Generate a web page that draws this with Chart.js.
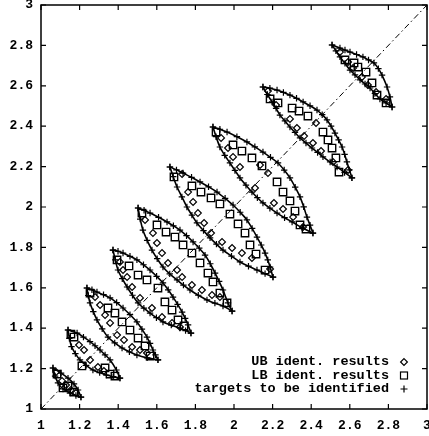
<!DOCTYPE html>
<html>
<head>
<meta charset="utf-8">
<script src="https://cdn.jsdelivr.net/npm/chart.js@4/dist/chart.umd.min.js"></script>
<style>
  body { margin: 0; background: #fff; }
  #plot { display: block; }
</style>
</head>
<body>
<canvas id="plot" width="429" height="436"></canvas>
<script>
const tickValues = [1, 1.2, 1.4, 1.6, 1.8, 2, 2.2, 2.4, 2.6, 2.8, 3];
const diagonal = [1, 3];
const legendLabels = ['UB ident. results', 'LB ident. results', 'targets to be identified'];

// targets, upper arc of each lens (x, y)
const targetsUpper = [
    [[1.062,1.203],[1.104,1.178],[1.140,1.153],[1.171,1.124],[1.192,1.094],[1.207,1.059]],
    [[1.140,1.391],[1.187,1.376],[1.220,1.356],[1.254,1.334],[1.280,1.313],[1.306,1.292],[1.332,1.268],[1.358,1.243],[1.391,1.193],[1.409,1.153]],
    [[1.238,1.599],[1.264,1.590],[1.290,1.579],[1.324,1.566],[1.358,1.550],[1.392,1.527],[1.425,1.500],[1.461,1.467],[1.497,1.431],[1.523,1.395],[1.549,1.356],[1.565,1.325],[1.580,1.292],[1.593,1.268],[1.606,1.243]],
    [[1.373,1.787],[1.399,1.781],[1.425,1.772],[1.461,1.756],[1.497,1.738],[1.531,1.714],[1.565,1.688],[1.599,1.657],[1.632,1.624],[1.659,1.590],[1.684,1.554],[1.708,1.518],[1.731,1.480],[1.747,1.449],[1.762,1.416],[1.777,1.376]],
    [[1.503,1.995],[1.534,1.984],[1.565,1.970],[1.609,1.949],[1.653,1.926],[1.686,1.907],[1.720,1.886],[1.754,1.858],[1.788,1.827],[1.820,1.796],[1.850,1.762],[1.877,1.719],[1.902,1.673],[1.923,1.632],[1.943,1.589],[1.969,1.525],[1.990,1.485]],
    [[1.668,2.198],[1.702,2.184],[1.736,2.168],[1.780,2.147],[1.824,2.124],[1.868,2.100],[1.912,2.074],[1.954,2.043],[1.995,2.010],[2.032,1.974],[2.067,1.936],[2.094,1.894],[2.119,1.851],[2.141,1.812],[2.161,1.772],[2.175,1.738],[2.187,1.703],[2.202,1.653]],
    [[1.891,2.396],[1.927,2.385],[1.964,2.371],[2.015,2.348],[2.067,2.322],[2.108,2.298],[2.150,2.272],[2.189,2.246],[2.228,2.218],[2.260,2.183],[2.290,2.144],[2.317,2.098],[2.342,2.050],[2.361,2.001],[2.378,1.950],[2.394,1.910],[2.409,1.871]],
    [[2.150,2.594],[2.186,2.588],[2.223,2.579],[2.256,2.567],[2.290,2.554],[2.324,2.538],[2.358,2.520],[2.394,2.501],[2.430,2.480],[2.457,2.457],[2.482,2.431],[2.503,2.400],[2.523,2.366],[2.542,2.332],[2.560,2.297],[2.573,2.261],[2.585,2.223],[2.598,2.184],[2.611,2.144]],
    [[2.508,2.802],[2.549,2.787],[2.575,2.777],[2.601,2.767],[2.635,2.755],[2.668,2.743],[2.697,2.728],[2.725,2.713],[2.748,2.685],[2.767,2.653],[2.793,2.594],[2.808,2.545],[2.819,2.495]]
];

// targets, lower arc of each lens
const targetsLower = [
    [[1.062,1.203],[1.073,1.163],[1.088,1.129],[1.114,1.099],[1.150,1.079],[1.181,1.067],[1.207,1.059]],
    [[1.140,1.391],[1.147,1.350],[1.158,1.309],[1.178,1.274],[1.202,1.243],[1.234,1.216],[1.269,1.193],[1.304,1.180],[1.339,1.168],[1.374,1.160],[1.409,1.153]],
    [[1.238,1.599],[1.245,1.562],[1.254,1.525],[1.271,1.482],[1.290,1.441],[1.317,1.397],[1.347,1.356],[1.382,1.327],[1.420,1.302],[1.458,1.283],[1.497,1.267],[1.550,1.253],[1.606,1.243]],
    [[1.373,1.787],[1.385,1.738],[1.399,1.688],[1.421,1.645],[1.446,1.604],[1.474,1.563],[1.503,1.525],[1.533,1.499],[1.565,1.475],[1.598,1.452],[1.632,1.431],[1.675,1.415],[1.720,1.401],[1.749,1.388],[1.777,1.376]],
    [[1.503,1.995],[1.514,1.940],[1.528,1.886],[1.550,1.835],[1.575,1.787],[1.602,1.744],[1.632,1.703],[1.667,1.669],[1.705,1.639],[1.738,1.613],[1.772,1.589],[1.815,1.563],[1.860,1.540],[1.901,1.524],[1.943,1.510],[1.990,1.485]],
    [[1.668,2.198],[1.685,2.150],[1.705,2.099],[1.730,2.050],[1.756,2.000],[1.782,1.960],[1.808,1.921],[1.842,1.883],[1.876,1.847],[1.909,1.816],[1.943,1.787],[1.987,1.757],[2.031,1.728],[2.075,1.707],[2.119,1.688],[2.161,1.670],[2.202,1.653]],
    [[1.891,2.396],[1.907,2.348],[1.927,2.297],[1.952,2.256],[1.979,2.218],[2.005,2.181],[2.031,2.144],[2.062,2.108],[2.093,2.074],[2.121,2.046],[2.150,2.020],[2.186,1.994],[2.223,1.970],[2.262,1.947],[2.301,1.926],[2.353,1.897],[2.409,1.871]],
    [[2.150,2.594],[2.173,2.557],[2.197,2.520],[2.218,2.488],[2.238,2.455],[2.264,2.426],[2.290,2.396],[2.316,2.369],[2.342,2.342],[2.373,2.317],[2.404,2.292],[2.433,2.270],[2.461,2.248],[2.498,2.223],[2.534,2.198],[2.573,2.171],[2.611,2.144]],
    [[2.508,2.802],[2.528,2.773],[2.549,2.743],[2.575,2.711],[2.601,2.678],[2.627,2.654],[2.653,2.629],[2.679,2.609],[2.705,2.589],[2.730,2.562],[2.756,2.535],[2.788,2.515],[2.819,2.495]]
];

// UB identification results (diamonds)
const ubResults = [
    [[1.078,1.183],[1.109,1.139],[1.130,1.119],[1.155,1.094],[1.181,1.079]],
    [[1.197,1.317],[1.223,1.292],[1.254,1.243],[1.295,1.208],[1.326,1.188]],
    [[1.280,1.554],[1.306,1.515],[1.332,1.465],[1.358,1.426],[1.394,1.366],[1.430,1.342],[1.472,1.307],[1.513,1.292],[1.549,1.277]],
    [[1.409,1.728],[1.425,1.688],[1.446,1.653],[1.472,1.604],[1.513,1.550],[1.575,1.500],[1.627,1.455],[1.679,1.426],[1.720,1.406]],
    [[1.539,1.936],[1.580,1.871],[1.601,1.822],[1.627,1.772],[1.658,1.723],[1.705,1.688],[1.731,1.653],[1.782,1.614],[1.834,1.589],[1.886,1.564],[1.927,1.554]],
    [[1.731,2.163],[1.762,2.074],[1.788,2.025],[1.813,1.970],[1.845,1.921],[1.881,1.871],[1.938,1.827],[1.990,1.797],[2.041,1.772],[2.093,1.748],[2.187,1.693]],
    [[1.933,2.342],[1.969,2.292],[1.995,2.248],[2.031,2.198],[2.109,2.094],[2.135,2.208],[2.176,2.168],[2.207,2.020],[2.254,1.990],[2.306,1.950],[2.358,1.901]],
    [[2.176,2.574],[2.218,2.505],[2.290,2.436],[2.326,2.391],[2.363,2.351],[2.425,2.416],[2.409,2.317],[2.451,2.277],[2.513,2.223],[2.591,2.183]],
    [[2.549,2.767],[2.591,2.718],[2.617,2.688],[2.663,2.644],[2.694,2.604],[2.736,2.569],[2.788,2.535]]
];

// LB identification results (squares)
const lbResults = [
    [[1.083,1.173],[1.114,1.104],[1.140,1.114],[1.171,1.084]],
    [[1.155,1.371],[1.171,1.356],[1.212,1.213],[1.332,1.203],[1.358,1.173],[1.383,1.163]],
    [[1.254,1.574],[1.347,1.500],[1.383,1.475],[1.420,1.431],[1.461,1.391],[1.503,1.351],[1.539,1.312],[1.565,1.262]],
    [[1.394,1.738],[1.456,1.708],[1.503,1.663],[1.549,1.639],[1.606,1.599],[1.642,1.530],[1.679,1.490],[1.710,1.441],[1.741,1.411]],
    [[1.523,1.970],[1.601,1.911],[1.648,1.876],[1.694,1.851],[1.736,1.812],[1.782,1.772],[1.824,1.723],[1.865,1.673],[1.891,1.629],[1.927,1.574],[1.964,1.525]],
    [[1.689,2.149],[1.782,2.104],[1.829,2.074],[1.881,2.045],[1.927,2.015],[1.979,1.965],[2.021,1.916],[2.057,1.871],[2.083,1.812],[2.114,1.767],[2.161,1.688]],
    [[1.907,2.371],[1.995,2.307],[2.041,2.277],[2.093,2.243],[2.145,2.203],[2.223,2.124],[2.254,2.074],[2.290,2.030],[2.316,1.980],[2.342,1.911],[2.373,1.891]],
    [[2.187,2.535],[2.228,2.515],[2.301,2.490],[2.337,2.475],[2.383,2.450],[2.461,2.371],[2.487,2.332],[2.508,2.292],[2.528,2.243],[2.544,2.173]],
    [[2.575,2.728],[2.622,2.713],[2.642,2.693],[2.684,2.668],[2.715,2.614],[2.741,2.554],[2.788,2.515]]
];

const toXY = list => list.map(p => ({ x: p[0], y: p[1] }));
const flat = lists => lists.flatMap(toXY);

const arcStyle = {
    showLine: true,
    borderColor: '#000',
    borderWidth: 1.6,
    pointStyle: 'cross',
    pointRadius: 3.2,
    pointBorderColor: '#000',
    pointBorderWidth: 1.2,
    tension: 0.3,
    fill: false
};

const datasets = [];
datasets.push({
    label: 'diagonal',
    data: diagonal.map(v => ({ x: v, y: v })),
    showLine: true,
    borderColor: '#000',
    borderWidth: 1,
    borderDash: [6, 3, 1.5, 3],
    pointRadius: 0
});
targetsUpper.forEach((arc, i) => {
    datasets.push(Object.assign({ label: legendLabels[2], data: toXY(arc) }, arcStyle));
    datasets.push(Object.assign({ label: legendLabels[2], data: toXY(targetsLower[i]) }, arcStyle));
});
datasets.push({
    label: legendLabels[0],
    data: flat(ubResults),
    pointStyle: 'rectRot',
    pointRadius: 3.4,
    borderColor: '#000',
    borderWidth: 1.2,
    backgroundColor: 'rgba(0,0,0,0)'
});
datasets.push({
    label: legendLabels[1],
    data: flat(lbResults),
    pointStyle: 'rect',
    pointRadius: 5.2,
    borderColor: '#000',
    borderWidth: 1.4,
    backgroundColor: 'rgba(0,0,0,0)'
});

const labelFont = { family: 'Liberation Mono', size: 13, weight: 'bold' };

// frame, inward ticks on all sides, and the key in the lower right
const framePlugin = {
    id: 'frame',
    afterDraw(chart) {
        const { ctx, chartArea: a, scales } = chart;
        ctx.save();
        ctx.strokeStyle = '#000';
        ctx.lineWidth = 1.5;
        ctx.strokeRect(a.left, a.top, a.right - a.left, a.bottom - a.top);
        ctx.lineWidth = 1.2;
        ctx.beginPath();
        scales.x.ticks.forEach(t => {
            const px = scales.x.getPixelForValue(t.value);
            ctx.moveTo(px, a.bottom); ctx.lineTo(px, a.bottom - 5);
            ctx.moveTo(px, a.top); ctx.lineTo(px, a.top + 5);
        });
        scales.y.ticks.forEach(t => {
            const py = scales.y.getPixelForValue(t.value);
            ctx.moveTo(a.left, py); ctx.lineTo(a.left + 5, py);
            ctx.moveTo(a.right, py); ctx.lineTo(a.right - 5, py);
        });
        ctx.stroke();

        ctx.font = 'bold 13.5px "Liberation Mono"';
        ctx.fillStyle = '#000';
        ctx.textAlign = 'right';
        ctx.textBaseline = 'middle';
        const keyX = 389, symX = 404;
        const rows = [362, 375.5, 389];
        legendLabels.forEach((txt, i) => ctx.fillText(txt, keyX, rows[i]));
        ctx.lineWidth = 1.2;
        ctx.beginPath();
        ctx.moveTo(symX, rows[0] - 3.4); ctx.lineTo(symX + 3.4, rows[0]);
        ctx.lineTo(symX, rows[0] + 3.4); ctx.lineTo(symX - 3.4, rows[0]); ctx.closePath();
        ctx.stroke();
        ctx.strokeRect(symX - 3.5, rows[1] - 3.5, 7, 7);
        ctx.beginPath();
        ctx.moveTo(symX - 3.5, rows[2]); ctx.lineTo(symX + 3.5, rows[2]);
        ctx.moveTo(symX, rows[2] - 3.5); ctx.lineTo(symX, rows[2] + 3.5);
        ctx.stroke();
        ctx.restore();
    }
};

const setTicks = scale => { scale.ticks = tickValues.map(v => ({ value: v })); };
const tickLabel = v => String(+v.toFixed(1));

new Chart(document.getElementById('plot'), {
    type: 'scatter',
    data: { datasets: datasets },
    options: {
        responsive: false,
        animation: false,
        devicePixelRatio: 1,
        layout: { padding: { top: 5, right: 2, left: 0, bottom: 0 }, autoPadding: false },
        plugins: { legend: { display: false }, tooltip: { enabled: false } },
        scales: {
            x: {
                type: 'linear', min: 1, max: 3,
                grid: { display: false, tickLength: 0 },
                border: { display: false },
                afterBuildTicks: setTicks,
                afterFit: s => { s.height = 27; s.paddingLeft = 0; s.paddingRight = 0; },
                ticks: { color: '#000', font: labelFont, padding: 9, maxRotation: 0, autoSkip: false, callback: tickLabel }
            },
            y: {
                type: 'linear', min: 1, max: 3,
                grid: { display: false, tickLength: 0 },
                border: { display: false },
                afterBuildTicks: setTicks,
                afterFit: s => { s.width = 41; s.paddingTop = 0; s.paddingBottom = 0; },
                ticks: { color: '#000', font: labelFont, padding: 8, autoSkip: false, callback: tickLabel }
            }
        }
    },
    plugins: [framePlugin]
});
</script>
</body>
</html>
